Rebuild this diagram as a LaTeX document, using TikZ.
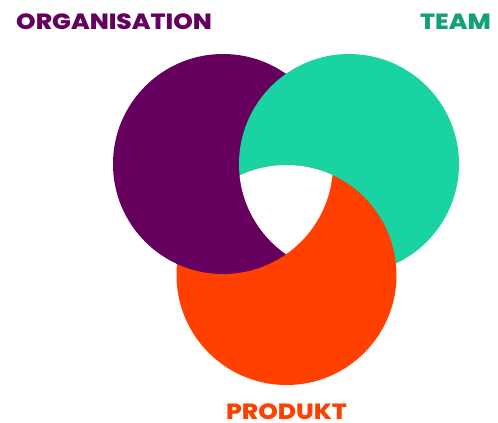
\documentclass[tikz,border=0pt]{standalone}
\usepackage{fontspec}
\newfontfamily\labfont{Poppins}[BoldFont={Poppins ExtraBold}]
\usetikzlibrary{positioning}
\definecolor{OrgPurple}{RGB}{102,0,94}
\definecolor{TeamGreen}{RGB}{25,211,163}
\definecolor{TeamText}{RGB}{20,160,120}
\definecolor{ProdOrange}{RGB}{255,64,0}
\tikzset{
  ring/.style={radius=110pt},
  title/.style={font=\labfont\bfseries\fontsize{22}{22}\selectfont,inner sep=0pt,text depth=0pt,xscale=1.13},
}

\begin{document}
\begin{tikzpicture}[x=1pt,y=-1pt]
\useasboundingbox (0,0) rectangle (498,423);
\coordinate (cOrg) at (223,164);
\coordinate (cTeam) at (349,164);
\coordinate (cProd) at (286.5,275);
\fill[OrgPurple] (cOrg) circle[ring];
\fill[TeamGreen] (cTeam) circle[ring];
\fill[ProdOrange] (cProd) circle[ring];
% purple lies over orange, but not over teal
\begin{scope}[even odd rule]
\clip (cOrg) circle[ring];
\clip (cProd) circle[radius=111pt];
\clip (0,0) rectangle (498,423) (cTeam) circle[ring];
\fill[OrgPurple] (cOrg) circle[radius=112pt];
\end{scope}
% hole in the middle
\begin{scope}
\clip (cOrg) circle[ring];
\clip (cProd) circle[ring];
\clip (cTeam) circle[ring];
\fill[white] (cOrg) circle[radius=112pt];
\end{scope}
\node[title,text=OrgPurple,anchor=base west] (org) at (16,29.5) {ORGANISATION};
\node[title,text=TeamText,anchor=base east] (team) at (491,29.5) {TEAM};
\node[title,text=ProdOrange,anchor=base] (prod) at (286.5,419) {PRODUKT};
\end{tikzpicture}
\end{document}
